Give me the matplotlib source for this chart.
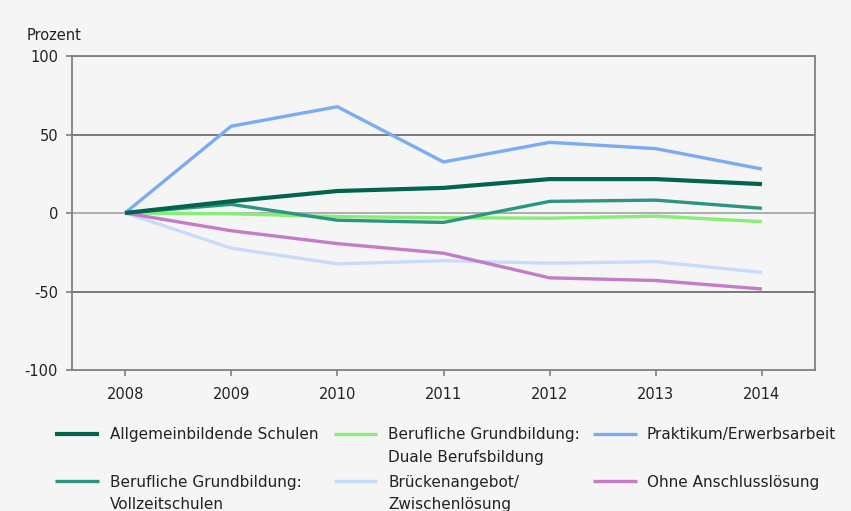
import matplotlib
matplotlib.use("Agg")
import matplotlib.pyplot as plt
from matplotlib.lines import Line2D

years = [2008, 2009, 2010, 2011, 2012, 2013, 2014]
allgemein = [0, 7.5, 14, 16, 21.6, 21.6, 18.4]
vollzeit = [0, 5.5, -4.6, -6, 7.4, 8.2, 3]
duale = [0, -0.5, -2.3, -3, -3.3, -2, -5.5]
praktikum = [0, 55.3, 67.7, 32.5, 45, 41, 28]
bruecken = [0, -22.4, -32.4, -30.4, -32, -31, -37.8]
ohne = [0, -11.3, -19.5, -25.6, -41.3, -43, -48.4]

labels = {
    "allgemein": ["Allgemeinbildende Schulen"],
    "vollzeit": ["Berufliche Grundbildung:", "Vollzeitschulen"],
    "duale": ["Berufliche Grundbildung:", "Duale Berufsbildung"],
    "bruecken": ["Brückenangebot/", "Zwischenlösung"],
    "praktikum": ["Praktikum/Erwerbsarbeit"],
    "ohne": ["Ohne Anschlusslösung"],
}
yticks = [-100, -50, 0, 50, 100]

bg = "#f5f5f5"
plt.rcParams["font.family"] = ["DejaVu Sans"]
plt.rcParams["axes.unicode_minus"] = False

W, H = 851, 511
fig = plt.figure(figsize=(W / 100, H / 100), dpi=100, facecolor=bg)
ax = fig.add_axes([72 / W, 1 - 370 / H, (815 - 72) / W, (370 - 56) / H])
ax.set_facecolor(bg)

for y in [-50, 50, 100]:
    ax.axhline(y, color="#707070", lw=1.3, zorder=1)
ax.axhline(0, color="#a8a8a8", lw=1.3, zorder=1)

series = [
    ("bruecken", bruecken, "#c8dbfa", 2.4, 2),
    ("duale", duale, "#86ee74", 2.4, 3),
    ("ohne", ohne, "#c47cc6", 2.4, 4),
    ("praktikum", praktikum, "#7aabf3", 2.4, 5),
    ("vollzeit", vollzeit, "#2b9580", 2.4, 6),
    ("allgemein", allgemein, "#00644e", 3.0, 7),
]
styles = {}
for key, vals, col, lw, z in series:
    ax.plot(years, vals, color=col, lw=lw, zorder=z, solid_capstyle="butt",
            solid_joinstyle="round")
    styles[key] = (col, lw)

ax.set_xlim(2007.5, 2014.5)
ax.set_ylim(-100, 100)
ax.set_xticks(years)
ax.set_yticks(yticks)
ax.tick_params(axis="both", colors="#808080", labelcolor="#222222", labelsize=10.5,
               length=4, width=1.2)
ax.tick_params(axis="y", pad=6)
ax.tick_params(axis="x", pad=8)
for sp in ax.spines.values():
    sp.set_color("#808080")
    sp.set_linewidth(1.3)

fig.text(27 / W, 1 - 40 / H, "Prozent", fontsize=10.5, color="#222222", va="baseline")

# legend laid out as a 3x2 grid (rows aligned as in the reference)
grid = [["allgemein", "duale", "praktikum"], ["vollzeit", "bruecken", "ohne"]]
col_handle = [(55, 99), (334, 377), (593, 637)]
col_text = [110, 388, 647]
row_handle_y = [433.5, 481]
row_base_y = [439, 486.5]
line_gap = 22.5
for r, row in enumerate(grid):
    for c, key in enumerate(row):
        col, lw = styles[key]
        x0, x1 = col_handle[c]
        yh = 1 - row_handle_y[r] / H
        fig.add_artist(Line2D([x0 / W, x1 / W], [yh, yh], transform=fig.transFigure,
                              color=col, lw=lw, solid_capstyle="butt"))
        for i, txt in enumerate(labels[key]):
            fig.text(col_text[c] / W, 1 - (row_base_y[r] + i * line_gap) / H, txt,
                     fontsize=11, color="#222222", va="baseline", ha="left")

fig.savefig("out.png", dpi=100, facecolor=bg)
